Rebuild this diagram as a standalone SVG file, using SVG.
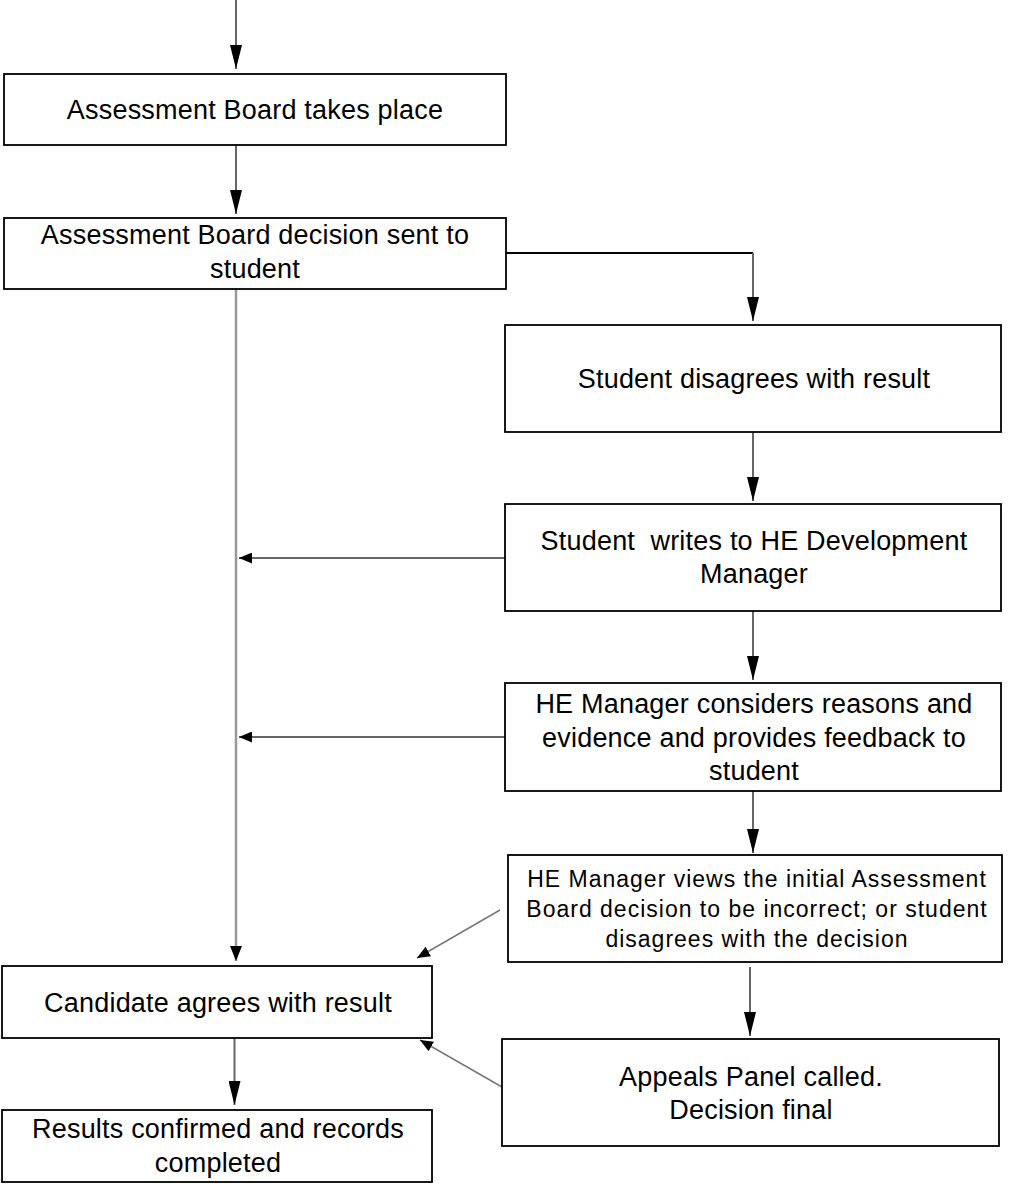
<svg xmlns="http://www.w3.org/2000/svg" width="1009" height="1184" viewBox="0 0 1009 1184">
<style>
  .box { fill: #fff; stroke: #000; stroke-width: 1.8; }
  .t { font-family: "Liberation Sans", Arial, sans-serif; font-size: 27px; letter-spacing: 0.2px; fill: #000; text-anchor: middle; }
  .ts { font-family: "Liberation Sans", Arial, sans-serif; font-size: 23px; letter-spacing: 1px; fill: #000; text-anchor: middle; }
  .c { fill: none; stroke: #666; stroke-width: 2; }
  .cl { fill: none; stroke: #999; stroke-width: 2.5; }
  .cd { fill: none; stroke: #777; stroke-width: 1.5; }
</style>
<defs>
  <marker id="big" markerUnits="userSpaceOnUse" markerWidth="24" markerHeight="12" refX="24" refY="6" orient="auto">
    <path d="M0,0 L24,6 L0,12 z" fill="#000"/>
  </marker>
  <marker id="med" markerUnits="userSpaceOnUse" markerWidth="15" markerHeight="12" refX="15" refY="6" orient="auto">
    <path d="M0,0 L15,6 L0,12 z" fill="#000"/>
  </marker>
  <marker id="small" markerUnits="userSpaceOnUse" markerWidth="13" markerHeight="11" refX="13" refY="5.5" orient="auto">
    <path d="M0,0 L13,5.5 L0,11 z" fill="#000"/>
  </marker>
</defs>

<g id="connectors">
  <path class="c" d="M236,0 L236,69" marker-end="url(#big)"/>
  <path class="c" d="M236,146 L236,214" marker-end="url(#big)"/>
  <path class="c" d="M506,253 L753,253" style="stroke:#000"/>
  <path class="c" d="M753,253 L753,321" marker-end="url(#big)"/>
  <path class="c" d="M753,432 L753,501" marker-end="url(#big)"/>
  <path class="c" d="M753,611 L753,680" marker-end="url(#big)"/>
  <path class="c" d="M753,791 L753,853" marker-end="url(#big)"/>
  <path class="c" d="M750,967 L750,1036" marker-end="url(#big)"/>
  <path class="cl" d="M236,289 L236,961" marker-end="url(#med)"/>
  <path class="c" d="M505,558 L239,558" marker-end="url(#small)"/>
  <path class="c" d="M505,737 L239,737" marker-end="url(#small)"/>
  <path class="cd" d="M500,910 L417,958" marker-end="url(#small)"/>
  <path class="cd" d="M502,1087 L420,1040" marker-end="url(#small)"/>
  <path class="c" d="M234.5,1038 L234.5,1105" marker-end="url(#big)"/>
</g>

<g id="n1">
  <rect class="box" x="4" y="74" width="502" height="71"/>
  <text class="t" x="255" y="119">Assessment Board takes place</text>
</g>
<g id="n2">
  <rect class="box" x="4" y="218" width="502" height="71"/>
  <text class="t" x="255" y="244">Assessment Board decision sent to</text>
  <text class="t" x="255" y="278">student</text>
</g>
<g id="n3">
  <rect class="box" x="505" y="325" width="496" height="107"/>
  <text class="t" x="754" y="388">Student disagrees with result</text>
</g>
<g id="n4">
  <rect class="box" x="505" y="504" width="496" height="107"/>
  <text class="t" x="754" y="550" xml:space="preserve">Student  writes to HE Development</text>
  <text class="t" x="754" y="583">Manager</text>
</g>
<g id="n5">
  <rect class="box" x="505" y="683" width="496" height="108"/>
  <text class="t" x="754" y="713">HE Manager considers reasons and</text>
  <text class="t" x="754" y="747">evidence and provides feedback to</text>
  <text class="t" x="754" y="780">student</text>
</g>
<g id="n6">
  <rect class="box" x="508" y="855" width="494" height="107"/>
  <text class="ts" x="757" y="887">HE Manager views the initial Assessment</text>
  <text class="ts" x="757" y="917">Board decision to be incorrect; or student</text>
  <text class="ts" x="757" y="947">disagrees with the decision</text>
</g>
<g id="n7">
  <rect class="box" x="502" y="1039" width="497" height="107"/>
  <text class="t" x="751" y="1086">Appeals Panel called.</text>
  <text class="t" x="751" y="1119">Decision final</text>
</g>
<g id="n8">
  <rect class="box" x="2" y="966" width="430" height="72"/>
  <text class="t" x="218" y="1012">Candidate agrees with result</text>
</g>
<g id="n9">
  <rect class="box" x="2" y="1110" width="430" height="72"/>
  <text class="t" x="218" y="1138">Results confirmed and records</text>
  <text class="t" x="218" y="1172">completed</text>
</g>
</svg>
